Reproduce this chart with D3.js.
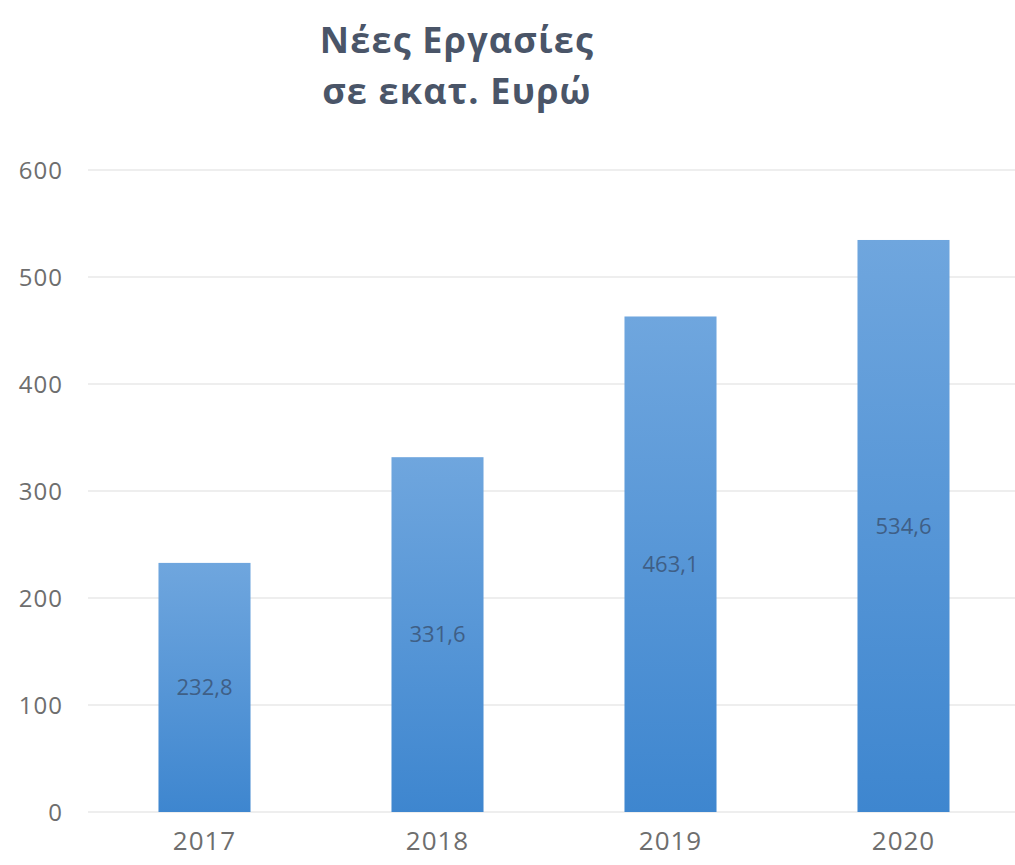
<!DOCTYPE html>
<html>
<head>
<meta charset="utf-8">
<script src="https://cdn.jsdelivr.net/npm/d3@7/dist/d3.min.js"></script>
<style>
  html, body { margin: 0; padding: 0; background: #ffffff; }
  svg { display: block; }
</style>
</head>
<body>
<script>
const titleLines = ["Νέες Εργασίες", "σε εκατ. Ευρώ"];
const categories = ["2017", "2018", "2019", "2020"];
const values = [232.8, 331.6, 463.1, 534.6];
const valueLabels = ["232,8", "331,6", "463,1", "534,6"];
const yTicks = [0, 100, 200, 300, 400, 500, 600];

const W = 1015, H = 865;
const svg = d3.select("body").append("svg").attr("width", W).attr("height", H);

const defs = svg.append("defs");
const grad = defs.append("linearGradient").attr("id", "barGrad")
  .attr("x1", 0).attr("y1", 0).attr("x2", 0).attr("y2", 1);
grad.append("stop").attr("offset", "0%").attr("stop-color", "#6fa6de");
grad.append("stop").attr("offset", "100%").attr("stop-color", "#3e86cf");

const x = d3.scaleBand().domain(categories).range([88, 1020]).paddingInner(0.605).paddingOuter(0.3025);
const y = d3.scaleLinear().domain([0, 600]).range([812, 170]);

// gridlines
svg.append("g").selectAll("line").data(yTicks).join("line")
  .attr("x1", 88).attr("x2", 1015)
  .attr("y1", d => y(d)).attr("y2", d => y(d))
  .attr("stroke", "#e8e8e8").attr("stroke-width", 1.5);

// y axis
const yAxis = svg.append("g").attr("transform", "translate(63,0)")
  .call(d3.axisLeft(y).tickValues(yTicks).tickSize(0).tickPadding(0));
yAxis.select(".domain").remove();
yAxis.selectAll("text")
  .attr("font-family", "'Open Sans', sans-serif").attr("font-size", 24)
  .attr("letter-spacing", 1)
  .attr("fill", "#6e6e6e").attr("dy", "0.35em");

// x axis
const xAxis = svg.append("g").attr("transform", "translate(0,812)")
  .call(d3.axisBottom(x).tickSize(0).tickPadding(0));
xAxis.select(".domain").remove();
xAxis.selectAll("text")
  .attr("font-family", "'Open Sans', sans-serif").attr("font-size", 26)
  .attr("letter-spacing", 1)
  .attr("fill", "#6e6e6e").attr("dy", "1.45em");

// bars
svg.append("g").selectAll("rect").data(values).join("rect")
  .attr("x", (d, i) => x(categories[i]))
  .attr("width", x.bandwidth())
  .attr("y", d => y(d))
  .attr("height", d => y(0) - y(d))
  .attr("fill", "url(#barGrad)");

// value labels
svg.append("g").selectAll("text").data(values).join("text")
  .attr("x", (d, i) => x(categories[i]) + x.bandwidth() / 2)
  .attr("y", d => (y(d) + y(0)) / 2)
  .attr("dy", "0.35em")
  .attr("text-anchor", "middle")
  .attr("font-family", "'Open Sans', sans-serif").attr("font-size", 22)
  .attr("fill", "#3f5f86")
  .text((d, i) => valueLabels[i]);

// title
svg.append("g").selectAll("text").data(titleLines).join("text")
  .attr("x", 457)
  .attr("y", (d, i) => 53 + i * 51)
  .attr("text-anchor", "middle")
  .attr("font-family", "'Open Sans', sans-serif").attr("font-weight", "bold")
  .attr("font-size", 36)
  .attr("letter-spacing", 1.2)
  .attr("fill", "#4a5568")
  .text(d => d);
</script>
</body>
</html>
